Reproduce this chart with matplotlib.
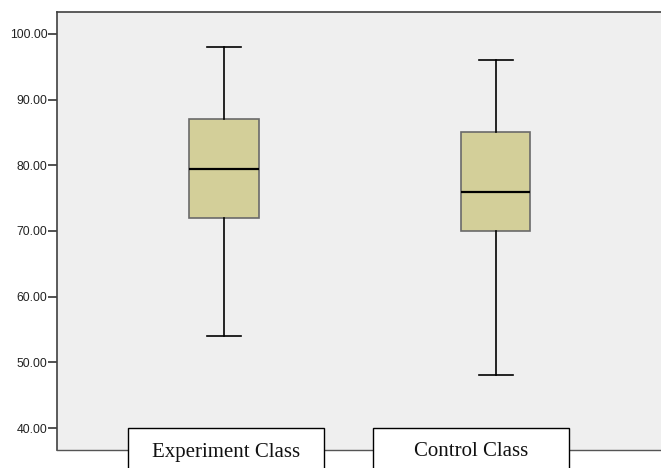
import matplotlib.pyplot as plt
from matplotlib.patches import Rectangle

groups = ['Experiment Class', 'Control Class']
whislo = [54, 48]
q1 = [72, 70]
med = [79.5, 76]
q3 = [87, 85]
whishi = [98, 96]
yticks = [40, 50, 60, 70, 80, 90, 100]

W, H = 661, 468
fig = plt.figure(figsize=(W / 100, H / 100), dpi=100)
ax = fig.add_axes([57 / W, 1 - 450 / H, (W - 57) / W, (450 - 12) / H])
ax.set_facecolor('#efefef')

stats = []
for i in range(len(groups)):
    stats.append({'whislo': whislo[i], 'q1': q1[i], 'med': med[i],
                  'q3': q3[i], 'whishi': whishi[i], 'fliers': []})

ax.bxp(stats, positions=[1, 2], widths=0.254, patch_artist=True,
       showfliers=False, capwidths=0.127,
       boxprops=dict(facecolor='#d3cf99', edgecolor='#6a6a6a', linewidth=1.2),
       medianprops=dict(color='black', linewidth=1.6),
       whiskerprops=dict(color='black', linewidth=1.2),
       capprops=dict(color='black', linewidth=1.2))

ax.set_xlim(0.386, 2.607)
ax.set_ylim(36.65, 103.35)
ax.set_yticks(yticks)
ax.set_yticklabels([f'{v:.2f}' for v in yticks], fontsize=8.8,
                   family='Liberation Sans', color='#222222')
ax.tick_params(axis='y', length=6.5, width=1.2, color='#333333', pad=0.5)
ax.set_xticks([])

ax.spines['right'].set_visible(False)
for s in ['left', 'top']:
    ax.spines[s].set_color('#404040')
    ax.spines[s].set_linewidth(1.2)
ax.spines['bottom'].set_color('#555555')
ax.spines['bottom'].set_linewidth(1.0)

# category labels in boxes, drawn the SPSS way across the bottom axis line
label_left = [128, 373]
label_width = 196
for name, x0 in zip(groups, label_left):
    fig.patches.append(Rectangle((x0 / W, -0.01), label_width / W, (468 - 428) / H + 0.01,
                                 transform=fig.transFigure, facecolor='white',
                                 edgecolor='black', linewidth=1.0))
    fig.text((x0 + label_width / 2) / W, 1 - 452 / H, name, ha='center', va='center',
             fontsize=15, family='Liberation Serif', color='#111111')

fig.savefig('out.png', dpi=100, facecolor='white')
